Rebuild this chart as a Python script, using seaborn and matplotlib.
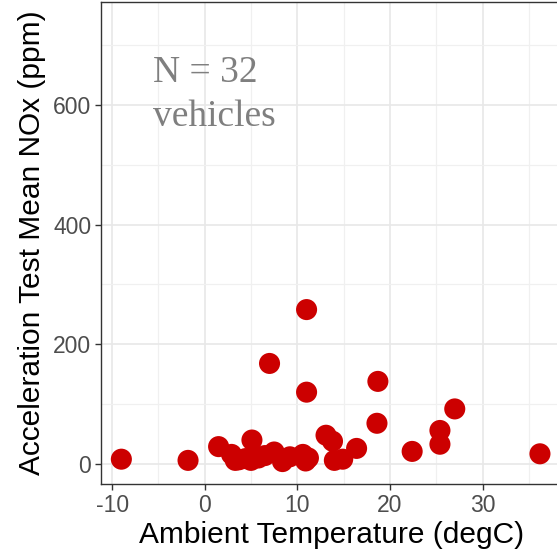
import matplotlib
matplotlib.use("Agg")
import matplotlib.pyplot as plt
from matplotlib.ticker import MultipleLocator
import pandas as pd
import seaborn as sns

# ambient temperature (degC) and mean NOx (ppm) per vehicle
temp_c = [-9.0, -1.8, 1.5, 2.9, 3.3, 3.7, 5.1, 5.0, 5.8, 6.5, 7.0, 7.5,
          8.4, 9.2, 10.6, 10.9, 11.0, 11.0, 11.2, 13.1, 13.8, 14.0, 14.9,
          16.4, 18.7, 18.6, 22.4, 25.4, 25.4, 27.0, 36.2, 4.4]
nox_ppm = [8, 6, 29, 16, 6, 7, 40, 6, 10, 14, 168, 20,
           4, 12, 16, 5, 258, 120, 10, 48, 38, 6, 8,
           26, 138, 68, 21, 56, 33, 92, 17, 9]

x_ticks = [-10, 0, 10, 20, 30]
y_ticks = [0, 200, 400, 600]
note_lines = ["N = 32", "vehicles"]

df = pd.DataFrame({"temp": temp_c, "nox": nox_ppm})

sns.set_style("whitegrid")
plt.rcParams["font.family"] = ["Liberation Sans", "DejaVu Sans"]

fig = plt.figure(figsize=(5.57, 5.55), dpi=100)
ax = fig.add_axes([0.1813, 0.128, 0.828, 0.8684])

sns.scatterplot(data=df, x="temp", y="nox", color="#CC0000", s=230,
                edgecolor="none", linewidth=0, ax=ax, zorder=3)

ax.set_xlim(-11.2, 38.6)
ax.set_ylim(-33.4, 772)
ax.set_xticks(x_ticks)
ax.set_xticklabels([str(t) for t in x_ticks])
ax.set_yticks(y_ticks)
ax.xaxis.set_minor_locator(MultipleLocator(5))
ax.yaxis.set_minor_locator(MultipleLocator(100))

ax.grid(which="major", color="#E8E8E8", linewidth=1.2)
ax.grid(which="minor", color="#F0F0F0", linewidth=0.9)
ax.set_axisbelow(True)

for sp in ax.spines.values():
    sp.set_visible(True)
    sp.set_color("#333333")
    sp.set_linewidth(1.0)

ax.tick_params(which="major", length=4, width=1, color="#333333",
               labelsize=16.5, labelcolor="#4D4D4D", pad=3,
               bottom=True, left=True)
ax.tick_params(which="minor", length=0)

ax.set_xlabel("Ambient Temperature (degC)", fontsize=21.5, color="black", labelpad=3)
ax.set_ylabel("Acceleration Test Mean NOx (ppm)", fontsize=21.5, color="black", labelpad=5)

ax.text(-5.6, 639, note_lines[0], family="Liberation Serif", fontsize=27,
        color="#7F7F7F", ha="left", va="baseline")
ax.text(-5.6, 565, note_lines[1], family="Liberation Serif", fontsize=27,
        color="#7F7F7F", ha="left", va="baseline")

fig.savefig("out.png", dpi=100)
